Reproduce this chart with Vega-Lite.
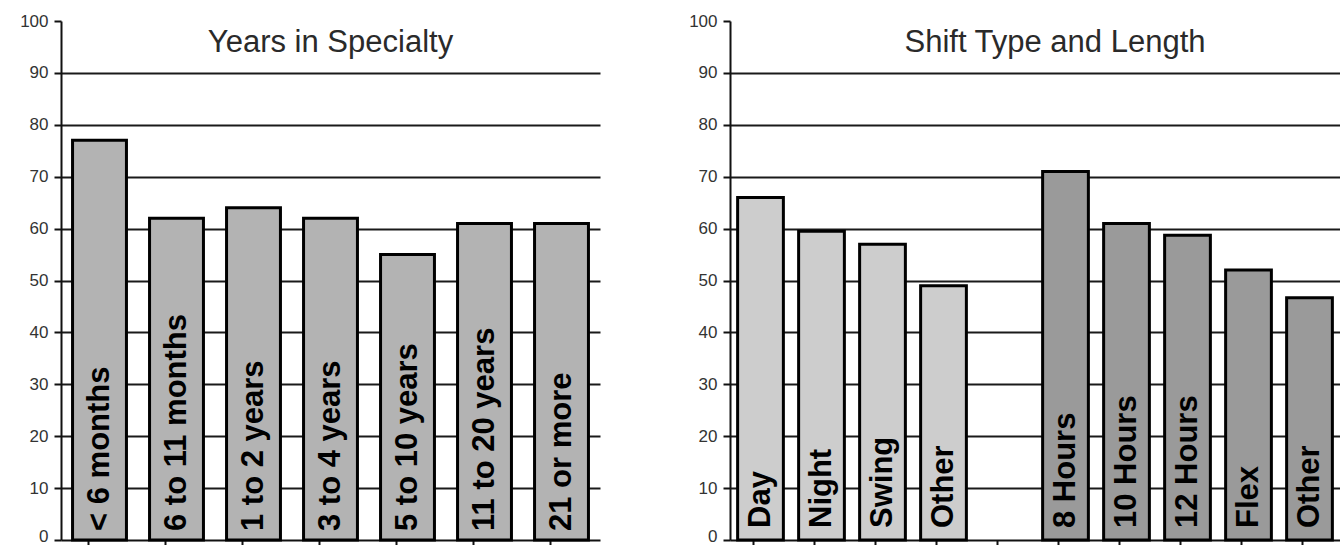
{
  "$schema": "https://vega.github.io/schema/vega-lite/v6.json",
  "background": "white",
  "padding": {"left": 0, "top": 12, "right": 0, "bottom": 0},
  "spacing": 69,
  "config": {
    "view": {"stroke": null},
    "font": "Liberation Sans",
    "axisX": {
      "labels": false,
      "title": null,
      "grid": false,
      "domainColor": "#111111",
      "domainWidth": 2,
      "tickColor": "#111111",
      "tickWidth": 2,
      "tickSize": 5
    },
    "axisY": {
      "title": null,
      "values": [0, 10, 20, 30, 40, 50, 60, 70, 80, 90, 100],
      "grid": true,
      "gridColor": "#1a1a1a",
      "gridWidth": 2,
      "gridOpacity": {"condition": {"test": "datum.value === 0 || datum.value === 100", "value": 0}, "value": 1},
      "domainColor": "#111111",
      "domainWidth": 2,
      "tickColor": "#111111",
      "tickWidth": 2,
      "tickSize": 7,
      "labelFont": "Liberation Sans",
      "labelFontSize": 17,
      "labelColor": "#333333",
      "labelPadding": 6,
      "labelOffset": {"condition": {"test": "datum.value === 0", "value": -4}, "value": 0},
      "minExtent": 61,
      "maxExtent": 61
    },
    "title": {
      "font": "Liberation Sans",
      "fontSize": 31,
      "fontWeight": "normal",
      "color": "#2a2a2a",
      "frame": "group",
      "anchor": "middle",
      "baseline": "alphabetic",
      "offset": -47
    }
  },
  "hconcat": [
    {
      "width": 539,
      "height": 519,
      "title": {"text": "Years in Specialty"},
      "data": {
        "values": [
          {"label": "< 6 months", "value": 77},
          {"label": "6 to 11 months", "value": 62},
          {"label": "1 to 2 years", "value": 64},
          {"label": "3 to 4 years", "value": 62},
          {"label": "5 to 10 years", "value": 55},
          {"label": "11 to 20 years", "value": 61},
          {"label": "21 or more", "value": 61}
        ]
      },
      "encoding": {
        "x": {
          "field": "label",
          "type": "nominal",
          "sort": null,
          "scale": {"paddingInner": 0.3, "paddingOuter": 0.15},
          "axis": {"tickOffset": -11.5}
        }
      },
      "layer": [
        {
          "mark": {"type": "bar", "color": "#b3b3b3", "stroke": "#000000", "strokeWidth": 3},
          "encoding": {
            "y": {"field": "value", "type": "quantitative", "scale": {"domain": [0, 100], "nice": false}}
          }
        },
        {
          "mark": {
            "type": "text",
            "angle": 270,
            "align": "left",
            "baseline": "middle",
            "dx": 9,
            "font": "Liberation Sans",
            "fontWeight": "bold",
            "fontSize": 31,
            "color": "#000000"
          },
          "encoding": {
            "y": {"datum": 0, "type": "quantitative"},
            "text": {"field": "label"}
          }
        }
      ]
    },
    {
      "width": 610,
      "height": 519,
      "title": {"text": "Shift Type and Length", "dx": 20},
      "data": {
        "values": [
          {"key": "Day", "label": "Day", "group": "Shift type", "value": 66},
          {"key": "Night", "label": "Night", "group": "Shift type", "value": 59.5},
          {"key": "Swing", "label": "Swing", "group": "Shift type", "value": 57},
          {"key": "Other (shift type)", "label": "Other", "group": "Shift type", "value": 49},
          {"key": "8 Hours", "label": "8 Hours", "group": "Shift length", "value": 71},
          {"key": "10 Hours", "label": "10 Hours", "group": "Shift length", "value": 61},
          {"key": "12 Hours", "label": "12 Hours", "group": "Shift length", "value": 58.7},
          {"key": "Flex", "label": "Flex", "group": "Shift length", "value": 52},
          {"key": "Other (shift length)", "label": "Other", "group": "Shift length", "value": 46.7}
        ]
      },
      "encoding": {
        "x": {
          "field": "key",
          "type": "nominal",
          "scale": {
            "domain": ["Day", "Night", "Swing", "Other (shift type)", " ", "8 Hours", "10 Hours", "12 Hours", "Flex", "Other (shift length)"],
            "paddingInner": 0.25,
            "paddingOuter": 0.125
          },
          "axis": {"tickOffset": -7.6}
        }
      },
      "layer": [
        {
          "mark": {"type": "bar", "stroke": "#000000", "strokeWidth": 3},
          "encoding": {
            "y": {"field": "value", "type": "quantitative", "scale": {"domain": [0, 100], "nice": false}},
            "fill": {
              "field": "group",
              "type": "nominal",
              "scale": {"domain": ["Shift type", "Shift length"], "range": ["#cdcdcd", "#9a9a9a"]},
              "legend": null
            }
          }
        },
        {
          "mark": {
            "type": "text",
            "angle": 270,
            "align": "left",
            "baseline": "middle",
            "dx": 12,
            "font": "Liberation Sans",
            "fontWeight": "bold",
            "fontSize": 31,
            "color": "#000000"
          },
          "encoding": {
            "y": {"datum": 0, "type": "quantitative"},
            "text": {"field": "label"}
          }
        }
      ]
    }
  ]
}
